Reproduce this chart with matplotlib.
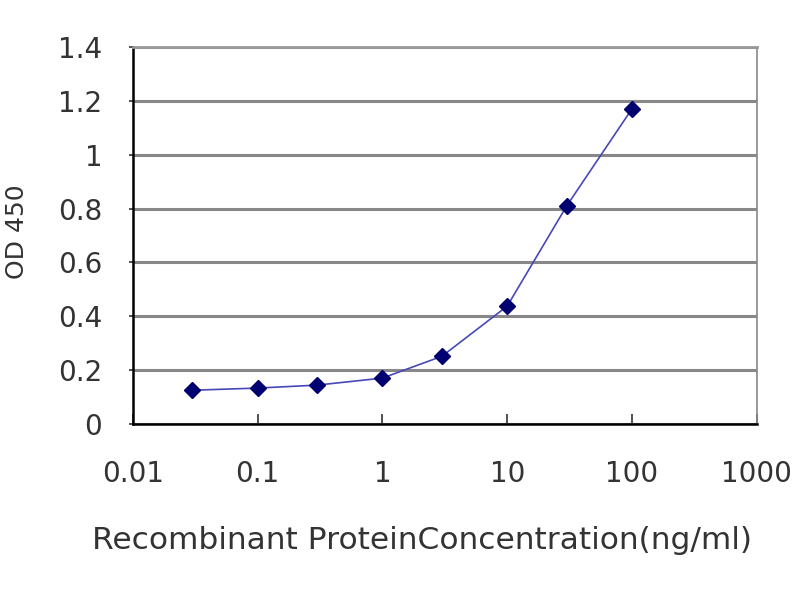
import matplotlib.pyplot as plt

# Data
concentration = [0.03, 0.1, 0.3, 1, 3, 10, 30, 100]
od450 = [0.126, 0.134, 0.145, 0.171, 0.252, 0.438, 0.81, 1.17]
x_ticks = [0.01, 0.1, 1, 10, 100, 1000]
x_tick_labels = ['0.01', '0.1', '1', '10', '100', '1000']
y_ticks = [0, 0.2, 0.4, 0.6, 0.8, 1, 1.2, 1.4]
y_tick_labels = ['0', '0.2', '0.4', '0.6', '0.8', '1', '1.2', '1.4']

plt.rcParams['font.family'] = ['DejaVu Sans']

fig = plt.figure(figsize=(8, 6), dpi=100)
ax = fig.add_axes([0.166, 0.293, 0.78, 0.629])

ax.plot(concentration, od450, color='#4848b8', linewidth=1.2,
        marker='D', markersize=8, markerfacecolor='#000070',
        markeredgecolor='#000070', zorder=3)

ax.set_xscale('log')
ax.set_xlim(0.01, 1000)
ax.set_ylim(0, 1.4)
ax.set_xticks(x_ticks)
ax.set_xticklabels(x_tick_labels)
ax.minorticks_off()
ax.set_yticks(y_ticks)
ax.set_yticklabels(y_tick_labels)

ax.grid(True, axis='y', color='#888888', linewidth=2.2)
ax.set_axisbelow(True)

ax.spines['left'].set_linewidth(1.8)
ax.spines['bottom'].set_linewidth(1.8)
ax.spines['right'].set_color('#888888')
ax.spines['right'].set_linewidth(1.2)
ax.spines['top'].set_color('#999999')
ax.spines['top'].set_linewidth(2.0)

ax.tick_params(axis='x', direction='in', length=7, width=1.2,
               labelsize=20, pad=26, colors='#333333')
ax.tick_params(axis='y', direction='out', length=3, width=1.2,
               labelsize=20, pad=19, colors='#333333')

ax.set_xlabel('Recombinant ProteinConcentration(ng/ml)', fontsize=22.5,
              color='#333333')
ax.xaxis.set_label_coords(0.463, -0.27)
ax.set_ylabel('OD 450', fontsize=18, color='#333333')
ax.yaxis.set_label_coords(-0.166, 0.51)

fig.savefig('out.png', dpi=100)
